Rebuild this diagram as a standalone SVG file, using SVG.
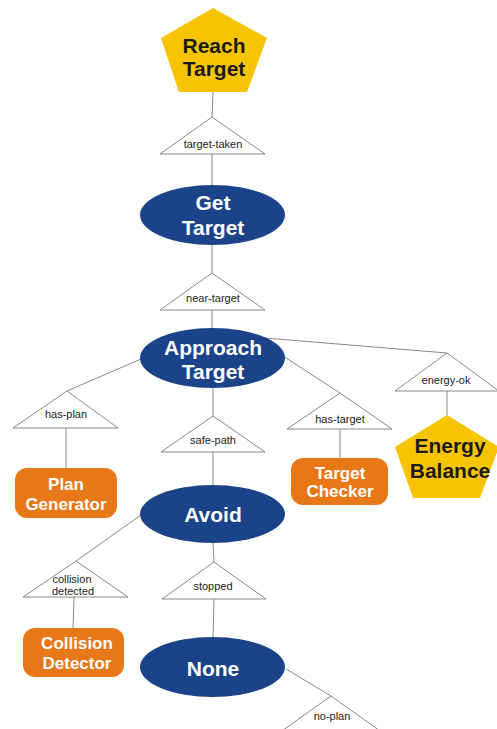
<svg xmlns="http://www.w3.org/2000/svg" width="497" height="729" viewBox="0 0 497 729">
<style>
.edge{stroke:#888;stroke-width:1;fill:none}
.tri{fill:#fff;stroke:#888;stroke-width:1}
.ell{fill:#1b4389}
.box{fill:#e77817}
.pent{fill:#f6c400}
.t{font-family:"Liberation Sans",Arial,sans-serif;text-anchor:middle}
.big{font-size:21px;font-weight:bold;fill:#fff}
.mid{font-size:17px;font-weight:bold;fill:#fff}
.pt{font-size:21px;font-weight:bold;fill:#1a1a1a}
.lab{font-size:11px;fill:#222}
</style>
<g id="connectors">
<line class="edge" x1="213" y1="92" x2="212" y2="117"/>
<line class="edge" x1="212" y1="154" x2="212" y2="185"/>
<line class="edge" x1="212" y1="245" x2="212" y2="273"/>
<line class="edge" x1="212" y1="310" x2="212" y2="328"/>
<line class="edge" x1="141" y1="359" x2="67" y2="391"/>
<line class="edge" x1="66" y1="428" x2="66" y2="468"/>
<line class="edge" x1="213" y1="388" x2="213" y2="416"/>
<line class="edge" x1="213" y1="452" x2="213" y2="485"/>
<line class="edge" x1="283" y1="356" x2="340" y2="393"/>
<line class="edge" x1="340" y1="429" x2="340" y2="458"/>
<line class="edge" x1="265" y1="338" x2="447" y2="353"/>
<line class="edge" x1="447" y1="391" x2="447" y2="415"/>
<line class="edge" x1="141" y1="515" x2="76" y2="561"/>
<line class="edge" x1="74" y1="597" x2="73" y2="628"/>
<line class="edge" x1="213" y1="543" x2="214" y2="562"/>
<line class="edge" x1="214" y1="599" x2="213" y2="637"/>
<line class="edge" x1="286" y1="669" x2="331" y2="696"/>
</g>
<g id="reach-target">
<polygon class="pent" points="213,8 267,38 247,92 179,92 161,38"/>
<text class="t pt" x="214" y="53">Reach</text>
<text class="t pt" x="214" y="76">Target</text>
</g>
<g id="cond-target-taken">
<polygon class="tri" points="212,117 265,154 160,154"/>
<text class="t lab" x="213" y="148">target-taken</text>
</g>
<g id="get-target">
<ellipse class="ell" cx="212.5" cy="215" rx="72.5" ry="30"/>
<text class="t big" x="213" y="210">Get</text>
<text class="t big" x="213" y="235">Target</text>
</g>
<g id="cond-near-target">
<polygon class="tri" points="212,273 265,310 160,310"/>
<text class="t lab" x="213" y="302">near-target</text>
</g>
<g id="approach-target">
<ellipse class="ell" cx="212.5" cy="358" rx="72.5" ry="30"/>
<text class="t big" x="213" y="355">Approach</text>
<text class="t big" x="213" y="379">Target</text>
</g>
<g id="cond-has-plan">
<polygon class="tri" points="67,391 118,428 13,428"/>
<text class="t lab" x="66" y="418">has-plan</text>
</g>
<g id="plan-generator">
<rect class="box" x="15" y="468" width="102" height="50" rx="12"/>
<text class="t mid" x="66" y="490">Plan</text>
<text class="t mid" x="66" y="510">Generator</text>
</g>
<g id="cond-safe-path">
<polygon class="tri" points="213,416 265,452 161,452"/>
<text class="t lab" x="213" y="444">safe-path</text>
</g>
<g id="cond-has-target">
<polygon class="tri" points="340,393 392,429 287,429"/>
<text class="t lab" x="340" y="423">has-target</text>
</g>
<g id="target-checker">
<rect class="box" x="291" y="458" width="97" height="47" rx="12"/>
<text class="t mid" x="340" y="479">Target</text>
<text class="t mid" x="340" y="497">Checker</text>
</g>
<g id="cond-energy-ok">
<polygon class="tri" points="447,353 499,391 395,391"/>
<text class="t lab" x="446" y="384">energy-ok</text>
</g>
<g id="energy-balance">
<polygon class="pent" points="447,415 499,447 480,498 413,498 395,447"/>
<text class="t pt" x="450" y="453">Energy</text>
<text class="t pt" x="450" y="478">Balance</text>
</g>
<g id="avoid">
<ellipse class="ell" cx="212.5" cy="514" rx="72.5" ry="29"/>
<text class="t big" x="213" y="522">Avoid</text>
</g>
<g id="cond-collision-detected">
<polygon class="tri" points="76,561 128,597 23,597"/>
<text class="t lab" x="72" y="583">collision</text>
<text class="t lab" x="73" y="595">detected</text>
</g>
<g id="collision-detector">
<rect class="box" x="23" y="628" width="101" height="49" rx="12"/>
<text class="t mid" x="77" y="649">Collision</text>
<text class="t mid" x="77" y="669">Detector</text>
</g>
<g id="cond-stopped">
<polygon class="tri" points="214,562 266,599 162,599"/>
<text class="t lab" x="213" y="590">stopped</text>
</g>
<g id="none">
<ellipse class="ell" cx="212.5" cy="667" rx="72.5" ry="30"/>
<text class="t big" x="213" y="676">None</text>
</g>
<g id="cond-no-plan">
<polygon class="tri" points="331,696 383,733 279,733"/>
<text class="t lab" x="332" y="720">no-plan</text>
</g>
</svg>
